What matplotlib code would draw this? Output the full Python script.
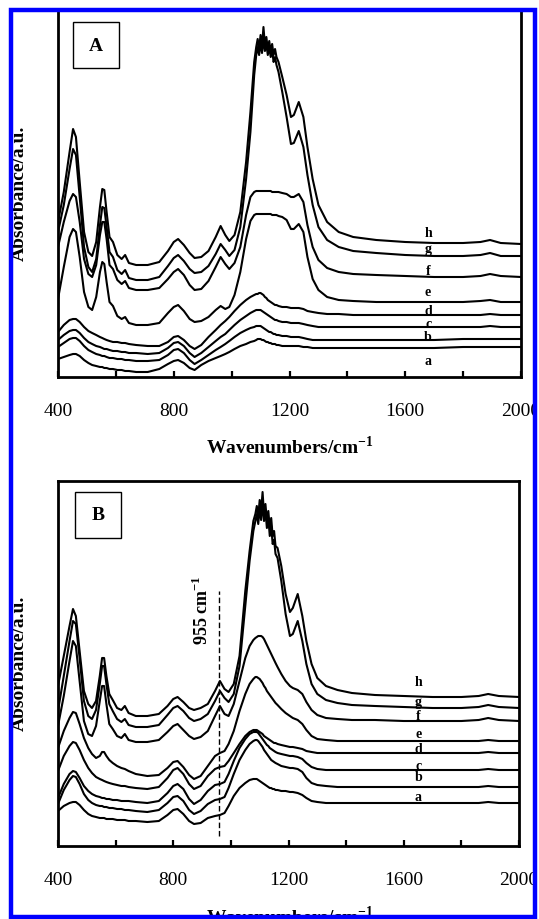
import matplotlib
matplotlib.use('Agg')
import matplotlib.pyplot as plt
from matplotlib.patches import Rectangle

plt.rcParams['font.family'] = ['Liberation Serif', 'DejaVu Serif']
plt.rcParams['mathtext.fontset'] = 'custom'
plt.rcParams['mathtext.rm'] = 'Liberation Serif'
plt.rcParams['mathtext.bf'] = 'Liberation Serif:bold'

# wavenumber grid (cm-1) shared by all spectra
wavenumber = [400, 420, 440, 452, 462, 475, 490, 505, 518, 532,
              545, 553, 560, 568, 578, 590, 605, 620, 632, 645,
              670, 710, 750, 780, 800, 815, 835, 855, 872, 895,
              920, 945, 962, 978, 992, 1010, 1030, 1050, 1065, 1078,
              1085, 1090, 1095, 1100, 1105, 1110, 1115, 1120, 1125, 1130,
              1135, 1140, 1145, 1150, 1155, 1162, 1175, 1190, 1205, 1215,
              1232, 1248, 1262, 1280, 1300, 1330, 1370, 1420, 1500, 1600,
              1700, 1800, 1860, 1893, 1930, 2000]

# panel A spectra (offset absorbance, a.u.)
A_h = [1.55, 1.85, 2.25, 2.48, 2.40, 1.95, 1.45, 1.25, 1.21, 1.35,
       1.70, 1.88, 1.87, 1.65, 1.40, 1.35, 1.22, 1.18, 1.22, 1.14,
       1.12, 1.12, 1.15, 1.26, 1.35, 1.38, 1.32, 1.24, 1.19, 1.20,
       1.26, 1.40, 1.51, 1.42, 1.36, 1.42, 1.65, 2.15, 2.65, 3.15,
       3.30, 3.38, 3.28, 3.42, 3.30, 3.50, 3.32, 3.40, 3.28, 3.36,
       3.25, 3.33, 3.22, 3.28, 3.20, 3.15, 3.00, 2.82, 2.60, 2.62,
       2.75, 2.60, 2.30, 1.98, 1.72, 1.55, 1.45, 1.40, 1.37, 1.35,
       1.34, 1.34, 1.35, 1.37, 1.34, 1.33]
A_g = [1.45, 1.72, 2.08, 2.28, 2.22, 1.80, 1.30, 1.10, 1.05, 1.18,
       1.52, 1.70, 1.69, 1.50, 1.25, 1.20, 1.07, 1.03, 1.07, 0.99,
       0.97, 0.97, 1.00, 1.11, 1.19, 1.22, 1.16, 1.08, 1.04, 1.05,
       1.11, 1.23, 1.33, 1.27, 1.21, 1.27, 1.50, 1.98, 2.45, 3.02,
       3.22, 3.30, 3.22, 3.35, 3.24, 3.38, 3.26, 3.33, 3.22, 3.30,
       3.20, 3.27, 3.15, 3.20, 3.12, 3.05, 2.85, 2.60, 2.33, 2.34,
       2.46, 2.30, 2.02, 1.72, 1.50, 1.37, 1.30, 1.26, 1.24, 1.22,
       1.21, 1.21, 1.22, 1.24, 1.21, 1.21]
A_f = [1.30, 1.55, 1.76, 1.83, 1.80, 1.55, 1.18, 1.03, 1.00, 1.12,
       1.42, 1.55, 1.55, 1.38, 1.12, 1.08, 0.97, 0.93, 0.96, 0.89,
       0.87, 0.87, 0.89, 0.98, 1.05, 1.08, 1.02, 0.92, 0.87, 0.88,
       0.96, 1.10, 1.20, 1.13, 1.08, 1.14, 1.30, 1.62, 1.80, 1.85,
       1.86, 1.86, 1.86, 1.86, 1.86, 1.86, 1.86, 1.86, 1.86, 1.86,
       1.86, 1.85, 1.85, 1.85, 1.85, 1.85, 1.84, 1.83, 1.80, 1.80,
       1.83, 1.75, 1.52, 1.30, 1.17, 1.09, 1.05, 1.03, 1.02, 1.01,
       1.00, 1.00, 1.01, 1.03, 1.01, 1.00]
A_e = [0.78, 1.10, 1.40, 1.48, 1.45, 1.20, 0.85, 0.70, 0.67, 0.80,
       1.05, 1.15, 1.13, 0.95, 0.75, 0.71, 0.61, 0.58, 0.60, 0.54,
       0.52, 0.52, 0.54, 0.64, 0.70, 0.72, 0.66, 0.58, 0.55, 0.56,
       0.60, 0.67, 0.71, 0.68, 0.70, 0.82, 1.05, 1.38, 1.56, 1.62,
       1.63, 1.63, 1.63, 1.63, 1.63, 1.63, 1.63, 1.63, 1.63, 1.63,
       1.63, 1.62, 1.62, 1.62, 1.62, 1.61, 1.60, 1.57, 1.48, 1.48,
       1.53, 1.45, 1.20, 0.98, 0.87, 0.80, 0.77, 0.76, 0.75, 0.75,
       0.75, 0.75, 0.76, 0.77, 0.75, 0.75]
A_d = [0.45, 0.52, 0.57, 0.58, 0.58, 0.55, 0.50, 0.46, 0.44, 0.42,
       0.40, 0.39, 0.38, 0.37, 0.36, 0.35, 0.35, 0.34, 0.34, 0.33,
       0.32, 0.31, 0.31, 0.35, 0.40, 0.41, 0.37, 0.31, 0.28, 0.32,
       0.40, 0.47, 0.52, 0.56, 0.60, 0.66, 0.72, 0.77, 0.80, 0.82,
       0.83, 0.83, 0.84, 0.84, 0.83, 0.82, 0.80, 0.79, 0.77, 0.76,
       0.75, 0.74, 0.73, 0.72, 0.72, 0.71, 0.70, 0.70, 0.69, 0.69,
       0.69, 0.68, 0.66, 0.65, 0.64, 0.63, 0.63, 0.62, 0.62, 0.62,
       0.62, 0.62, 0.62, 0.63, 0.62, 0.62]
A_c = [0.37, 0.42, 0.46, 0.47, 0.47, 0.44, 0.39, 0.35, 0.33, 0.31,
       0.30, 0.29, 0.28, 0.28, 0.27, 0.26, 0.26, 0.25, 0.25, 0.24,
       0.24, 0.23, 0.24, 0.29, 0.34, 0.35, 0.31, 0.24, 0.20, 0.24,
       0.30, 0.36, 0.40, 0.43, 0.47, 0.52, 0.57, 0.61, 0.64, 0.66,
       0.67, 0.67, 0.67, 0.67, 0.66, 0.65, 0.64, 0.63, 0.62, 0.61,
       0.60, 0.59, 0.58, 0.57, 0.57, 0.56, 0.55, 0.55, 0.54, 0.54,
       0.54, 0.53, 0.52, 0.51, 0.50, 0.50, 0.50, 0.50, 0.50, 0.50,
       0.50, 0.50, 0.50, 0.51, 0.50, 0.50]
A_b = [0.30, 0.34, 0.38, 0.39, 0.39, 0.36, 0.31, 0.27, 0.25, 0.23,
       0.22, 0.21, 0.21, 0.20, 0.19, 0.19, 0.18, 0.18, 0.17, 0.17,
       0.16, 0.16, 0.17, 0.22, 0.27, 0.28, 0.24, 0.17, 0.13, 0.17,
       0.22, 0.27, 0.30, 0.33, 0.36, 0.40, 0.44, 0.47, 0.49, 0.50,
       0.51, 0.51, 0.51, 0.51, 0.50, 0.49, 0.48, 0.47, 0.46, 0.45,
       0.45, 0.44, 0.43, 0.43, 0.42, 0.42, 0.41, 0.41, 0.40, 0.40,
       0.40, 0.39, 0.38, 0.37, 0.37, 0.37, 0.37, 0.37, 0.37, 0.37,
       0.37, 0.38, 0.38, 0.38, 0.38, 0.38]
A_a = [0.18, 0.20, 0.22, 0.23, 0.23, 0.21, 0.17, 0.14, 0.12, 0.11,
       0.10, 0.10, 0.09, 0.09, 0.08, 0.08, 0.07, 0.07, 0.06, 0.06,
       0.05, 0.05, 0.08, 0.13, 0.16, 0.17, 0.14, 0.09, 0.07, 0.12,
       0.16, 0.19, 0.21, 0.23, 0.25, 0.28, 0.31, 0.33, 0.35, 0.36,
       0.37, 0.38, 0.38, 0.38, 0.37, 0.37, 0.36, 0.35, 0.35, 0.34,
       0.34, 0.33, 0.33, 0.33, 0.32, 0.32, 0.31, 0.31, 0.31, 0.31,
       0.31, 0.30, 0.30, 0.29, 0.29, 0.29, 0.29, 0.29, 0.29, 0.29,
       0.29, 0.30, 0.30, 0.30, 0.30, 0.30]

# panel B spectra
B_h = [1.60, 1.90, 2.20, 2.37, 2.30, 1.95, 1.55, 1.42, 1.38, 1.45,
       1.70, 1.88, 1.88, 1.70, 1.52, 1.46, 1.38, 1.36, 1.40, 1.33,
       1.30, 1.30, 1.32, 1.40, 1.47, 1.49, 1.44, 1.38, 1.36, 1.38,
       1.42, 1.55, 1.65, 1.57, 1.54, 1.62, 1.90, 2.55, 2.95, 3.25,
       3.32, 3.40, 3.30, 3.46, 3.35, 3.54, 3.32, 3.42, 3.25, 3.35,
       3.18, 3.28, 3.10, 3.15, 3.00, 2.98, 2.80, 2.52, 2.34, 2.38,
       2.52, 2.30, 2.05, 1.82, 1.68, 1.60, 1.56, 1.53, 1.51, 1.50,
       1.49, 1.49, 1.50, 1.52, 1.50, 1.49]
B_g = [1.35, 1.70, 2.05, 2.25, 2.22, 1.88, 1.45, 1.30, 1.27, 1.36,
       1.62, 1.80, 1.80, 1.62, 1.42, 1.35, 1.27, 1.24, 1.27, 1.21,
       1.19, 1.19, 1.21, 1.31, 1.38, 1.40, 1.35, 1.28, 1.25, 1.27,
       1.32, 1.45, 1.55, 1.48, 1.44, 1.52, 1.80, 2.40, 2.85, 3.15,
       3.25, 3.32, 3.22, 3.38, 3.26, 3.44, 3.25, 3.35, 3.18, 3.28,
       3.10, 3.20, 3.02, 3.06, 2.92, 2.88, 2.65, 2.32, 2.10, 2.12,
       2.25, 2.05, 1.82, 1.62, 1.52, 1.46, 1.43, 1.41, 1.40, 1.39,
       1.38, 1.38, 1.39, 1.41, 1.39, 1.38]
B_f = [1.20, 1.50, 1.85, 2.05, 2.00, 1.65, 1.25, 1.12, 1.10, 1.20,
       1.45, 1.60, 1.60, 1.42, 1.22, 1.17, 1.10, 1.08, 1.12, 1.06,
       1.04, 1.04, 1.06, 1.14, 1.20, 1.22, 1.16, 1.10, 1.07, 1.09,
       1.15, 1.30, 1.40, 1.32, 1.30, 1.42, 1.65, 1.88, 2.00, 2.06,
       2.08, 2.09, 2.10, 2.10, 2.10, 2.09, 2.07, 2.04, 2.01, 1.98,
       1.95, 1.92, 1.89, 1.86, 1.83, 1.79, 1.72, 1.65, 1.60, 1.58,
       1.56, 1.52, 1.44, 1.36, 1.31, 1.28, 1.27, 1.26, 1.26, 1.25,
       1.25, 1.25, 1.26, 1.28, 1.26, 1.25]
B_e = [0.98, 1.15, 1.28, 1.34, 1.33, 1.22, 1.08, 0.98, 0.92, 0.88,
       0.90, 0.94, 0.94, 0.90, 0.86, 0.83, 0.80, 0.78, 0.77, 0.75,
       0.72, 0.70, 0.71, 0.78, 0.84, 0.85, 0.79, 0.71, 0.67, 0.70,
       0.80, 0.90, 0.93, 0.95, 1.02, 1.15, 1.35, 1.52, 1.62, 1.67,
       1.69, 1.69, 1.68, 1.67, 1.65, 1.63, 1.60, 1.58, 1.55, 1.53,
       1.51, 1.49, 1.47, 1.45, 1.43, 1.41, 1.37, 1.33, 1.30, 1.28,
       1.26, 1.22, 1.16, 1.10, 1.07, 1.06, 1.05, 1.05, 1.05, 1.05,
       1.05, 1.05, 1.05, 1.06, 1.05, 1.05]
B_d = [0.75, 0.90, 1.00, 1.04, 1.03, 0.96, 0.86, 0.78, 0.73, 0.69,
       0.67, 0.66, 0.65, 0.64, 0.63, 0.62, 0.61, 0.60, 0.60, 0.59,
       0.58, 0.57, 0.59, 0.68, 0.76, 0.78, 0.72, 0.62, 0.57, 0.60,
       0.70, 0.77, 0.79, 0.80, 0.85, 0.93, 1.02, 1.10, 1.14, 1.16,
       1.16, 1.16, 1.15, 1.14, 1.13, 1.12, 1.10, 1.09, 1.08, 1.07,
       1.06, 1.05, 1.04, 1.03, 1.03, 1.02, 1.01, 1.00, 0.99, 0.99,
       0.98, 0.97, 0.95, 0.94, 0.93, 0.93, 0.93, 0.93, 0.93, 0.93,
       0.93, 0.93, 0.93, 0.94, 0.93, 0.93]
B_c = [0.48, 0.62, 0.72, 0.75, 0.74, 0.68, 0.60, 0.55, 0.52, 0.50,
       0.49, 0.48, 0.48, 0.47, 0.47, 0.46, 0.46, 0.45, 0.45, 0.45,
       0.44, 0.43, 0.45, 0.53, 0.60, 0.62, 0.57, 0.47, 0.42, 0.46,
       0.55, 0.61, 0.62, 0.64, 0.72, 0.85, 0.98, 1.07, 1.12, 1.14,
       1.14, 1.14, 1.13, 1.11, 1.09, 1.07, 1.05, 1.03, 1.01, 1.00,
       0.98, 0.97, 0.96, 0.95, 0.94, 0.93, 0.92, 0.91, 0.90, 0.90,
       0.89, 0.87, 0.83, 0.79, 0.77, 0.76, 0.76, 0.76, 0.76, 0.76,
       0.76, 0.76, 0.76, 0.77, 0.76, 0.76]
B_b = [0.42, 0.56, 0.66, 0.70, 0.69, 0.62, 0.52, 0.46, 0.43, 0.41,
       0.40, 0.40, 0.39, 0.39, 0.38, 0.38, 0.37, 0.37, 0.36, 0.36,
       0.35, 0.34, 0.36, 0.43, 0.49, 0.50, 0.45, 0.36, 0.32, 0.35,
       0.42, 0.46, 0.47, 0.49, 0.58, 0.72, 0.86, 0.96, 1.02, 1.05,
       1.06, 1.06, 1.05, 1.03, 1.01, 0.99, 0.96, 0.94, 0.92, 0.90,
       0.88, 0.86, 0.85, 0.84, 0.83, 0.82, 0.80, 0.79, 0.78, 0.78,
       0.77, 0.74, 0.68, 0.63, 0.61, 0.60, 0.59, 0.59, 0.59, 0.59,
       0.59, 0.59, 0.59, 0.60, 0.59, 0.59]
B_a = [0.35, 0.40, 0.43, 0.44, 0.44, 0.41, 0.36, 0.32, 0.30, 0.29,
       0.28, 0.28, 0.28, 0.27, 0.27, 0.27, 0.26, 0.26, 0.26, 0.25,
       0.25, 0.24, 0.25, 0.31, 0.36, 0.37, 0.32, 0.25, 0.22, 0.23,
       0.28, 0.30, 0.31, 0.33, 0.40, 0.50, 0.58, 0.63, 0.66, 0.67,
       0.67, 0.67, 0.66, 0.65, 0.64, 0.63, 0.62, 0.61, 0.60, 0.59,
       0.58, 0.58, 0.57, 0.57, 0.56, 0.56, 0.55, 0.55, 0.54, 0.54,
       0.53, 0.51, 0.48, 0.45, 0.44, 0.43, 0.43, 0.43, 0.43, 0.43,
       0.43, 0.43, 0.43, 0.44, 0.43, 0.43]

curve_names = ['a', 'b', 'c', 'd', 'e', 'f', 'g', 'h']
label_wn_A = 1679
label_y_A = [0.16, 0.40, 0.53, 0.66, 0.85, 1.06, 1.28, 1.44]
label_wn_B = 1651
label_y_B = [0.49, 0.69, 0.80, 0.97, 1.12, 1.30, 1.44, 1.64]

xticks_major = [400, 800, 1200, 1600, 2000]
xticks_minor = [600, 1000, 1400, 1800]
marker_wn = 958

W, H = 539, 920
fig = plt.figure(figsize=(W / 100, H / 100), dpi=100)


def px_axes(left, top, right, bottom):
    return fig.add_axes([left / W, 1 - bottom / H, (right - left) / W, (bottom - top) / H])


def setup(ax, ytop):
    ax.set_xlim(400, 2000)
    ax.set_ylim(0, ytop)
    ax.set_yticks([])
    ax.set_xticks(xticks_major)
    ax.set_xticks(xticks_minor, minor=True)
    ax.tick_params(axis='x', which='both', direction='in', length=4, width=1.6,
                   labelsize=14, pad=18)
    for s in ax.spines.values():
        s.set_linewidth(2)


def panel_box(ax, x0, y0, w, h, letter):
    ax.add_patch(Rectangle((x0, y0), w, h, transform=ax.transAxes, fill=False,
                           edgecolor='black', linewidth=1.0))
    ax.text(x0 + w / 2, y0 + h / 2, letter, transform=ax.transAxes, fontsize=14,
            fontweight='bold', ha='center', va='center')


# panel A
axA = px_axes(58, 11, 521, 378)
setup(axA, 3.67)
for name, ys, ly in zip(curve_names, [A_a, A_b, A_c, A_d, A_e, A_f, A_g, A_h], label_y_A):
    axA.plot(wavenumber, ys, color='black', linewidth=1.5)
    axA.text(label_wn_A, ly, name, fontsize=10, fontweight='bold', ha='center', va='center')
panel_box(axA, 0.032, 0.842, 0.100, 0.125, 'A')

# panel B
axB = px_axes(58, 482, 519, 847)
setup(axB, 3.65)
for name, ys, ly in zip(curve_names, [B_a, B_b, B_c, B_d, B_e, B_f, B_g, B_h], label_y_B):
    axB.plot(wavenumber, ys, color='black', linewidth=1.5)
    axB.text(label_wn_B, ly, name, fontsize=10, fontweight='bold', ha='center', va='center')
axB.plot([marker_wn, marker_wn], [0.10, 2.55], color='black', linewidth=1.0,
         linestyle=(0, (4, 2)))
axB.text(899, 2.37, r'955 cm$^{\mathbf{-1}}$', rotation=90, fontsize=13,
         fontweight='bold', ha='center', va='center')
panel_box(axB, 0.037, 0.844, 0.100, 0.126, 'B')

# axis titles
for yc in (193, 663):
    fig.text(19 / W, 1 - yc / H, 'Absorbance/a.u.', rotation=90, fontsize=14,
             fontweight='bold', ha='center', va='center')
for yc in (447, 917):
    fig.text(289.5 / W, 1 - yc / H, r'Wavenumbers/cm$^{\mathbf{-1}}$', fontsize=14,
             fontweight='bold', ha='center', va='center')

# blue frame around the whole figure
ov = fig.add_axes([0, 0, 1, 1], zorder=20)
ov.set_xlim(0, W)
ov.set_ylim(H, 0)
ov.axis('off')
ov.patch.set_alpha(0)
for x0, y0, w, h in [(0, 0, 8, H), (537, 0, W - 537, H), (0, 0, W, 9), (0, 919, W, H - 919)]:
    ov.add_patch(Rectangle((x0, y0), w, h, facecolor='white', edgecolor='none'))
ov.add_patch(Rectangle((10.5, 11), 524.5, 906.5, fill=False, edgecolor='#0000ff',
                       linewidth=3.2))

fig.savefig('out.png', dpi=100)
